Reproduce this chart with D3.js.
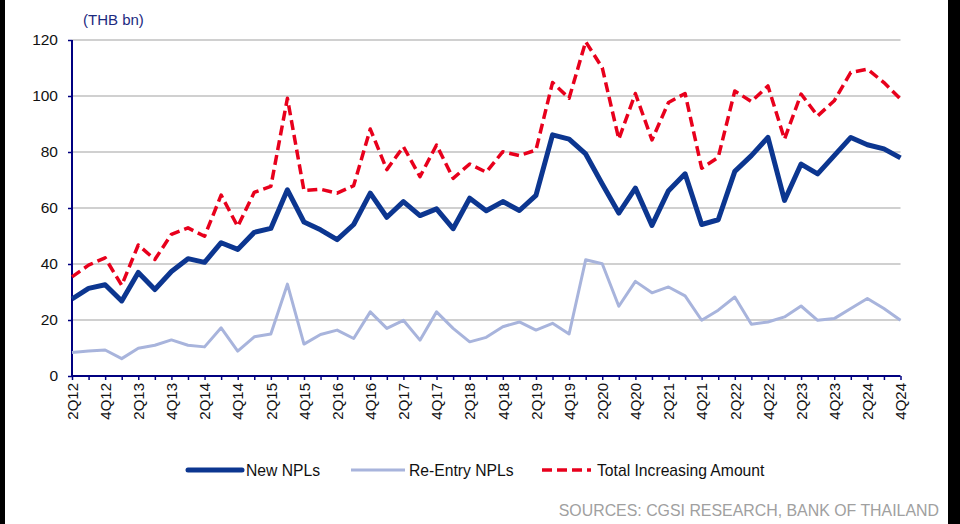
<!DOCTYPE html>
<html>
  <head>
    <meta charset="utf-8" />
    <title>New NPLs</title>
    <script src="https://d3js.org/d3.v7.min.js"></script>
    <style>
      body {
        margin: 0;
        background: white;
      }
      svg {
        display: block;
        font-family: Arial, "Liberation Sans", sans-serif;
      }
    </style>
  </head>

  <body>
    <svg width="960" height="524" id="chart"></svg>

    <script>
      // quarters, 2Q12 .. 4Q24
      const quarters = [
        "2Q12", "3Q12", "4Q12", "1Q13", "2Q13", "3Q13", "4Q13", "1Q14", "2Q14", "3Q14",
        "4Q14", "1Q15", "2Q15", "3Q15", "4Q15", "1Q16", "2Q16", "3Q16", "4Q16", "1Q17",
        "2Q17", "3Q17", "4Q17", "1Q18", "2Q18", "3Q18", "4Q18", "1Q19", "2Q19", "3Q19",
        "4Q19", "1Q20", "2Q20", "3Q20", "4Q20", "1Q21", "2Q21", "3Q21", "4Q21", "1Q22",
        "2Q22", "3Q22", "4Q22", "1Q23", "2Q23", "3Q23", "4Q23", "1Q24", "2Q24", "3Q24",
        "4Q24"
      ];

      const newNPLs = [
        27.5, 31.3, 32.6, 26.8, 37.0, 30.9, 37.3, 41.9, 40.6, 47.6,
        45.2, 51.3, 52.7, 66.5, 55.0, 52.2, 48.7, 54.1, 65.3, 56.7,
        62.3, 57.3, 59.7, 52.6, 63.5, 59.0, 62.3, 59.1, 64.5, 86.1,
        84.6, 79.3, 68.6, 58.2, 67.1, 53.8, 66.2, 72.2, 54.1, 55.8,
        73.1, 78.7, 85.2, 62.7, 75.7, 72.2, 78.7, 85.2, 82.6, 81.1,
        77.9
      ];

      const reEntryNPLs = [
        8.4, 8.9, 9.3, 6.2, 9.9, 11.0, 12.9, 11.0, 10.4, 17.2,
        8.9, 14.0, 15.0, 32.8, 11.4, 14.8, 16.4, 13.4, 22.9, 17.0,
        19.9, 12.8, 22.9, 17.0, 12.2, 13.8, 17.6, 19.3, 16.4, 18.8,
        15.0, 41.5, 40.1, 24.9, 33.8, 29.7, 31.8, 28.6, 19.9, 23.5,
        28.2, 18.5, 19.3, 21.1, 25.0, 19.9, 20.5, 24.1, 27.7, 24.1,
        19.9
      ];

      const totalIncreasing = [
        35.4, 39.6, 42.2, 32.4, 46.8, 41.6, 50.6, 52.9, 49.9, 64.6,
        53.4, 65.6, 67.7, 99.2, 66.2, 66.7, 65.3, 68.0, 88.2, 73.7,
        81.9, 71.2, 82.5, 70.6, 75.7, 72.8, 80.1, 78.7, 80.7, 104.8,
        99.2, 119.4, 110.1, 84.6, 100.9, 84.3, 97.7, 100.9, 74.2, 78.1,
        101.8, 98.0, 103.6, 84.6, 100.7, 92.9, 98.3, 108.4, 109.6, 104.8,
        98.9
      ];

      const yTicks = [0, 20, 40, 60, 80, 100, 120];

      const series = [
        { name: "New NPLs", values: newNPLs, color: "#0c3690", width: 5, dash: null },
        { name: "Re-Entry NPLs", values: reEntryNPLs, color: "#a8b4dc", width: 3, dash: null },
        { name: "Total Increasing Amount", values: totalIncreasing, color: "#e8001c", width: 3.5, dash: "10,5" }
      ];

      const svg = d3.select("#chart");
      const axisColor = "#000080";

      const plotLeft = 72, plotRight = 900.5, plotTop = 40, plotBottom = 376;

      const x = d3.scalePoint()
        .domain(quarters)
        .range([plotLeft, plotRight]);

      const y = d3.scaleLinear()
        .domain([0, 120])
        .range([plotBottom, plotTop]);

      // grid lines
      svg.append("g")
        .selectAll("line")
        .data(yTicks.filter(d => d > 0))
        .enter()
        .append("line")
        .attr("x1", plotLeft)
        .attr("x2", plotRight)
        .attr("y1", d => y(d))
        .attr("y2", d => y(d))
        .attr("stroke", "#c0c0c0")
        .attr("stroke-width", 1.5);

      // y axis
      const yAxis = svg.append("g")
        .attr("transform", `translate(${plotLeft},0)`)
        .call(d3.axisLeft(y).tickValues(yTicks).tickSize(4).tickPadding(10));
      yAxis.select(".domain").attr("stroke", axisColor).attr("stroke-width", 2)
        .attr("d", `M0,${plotTop}V${plotBottom}`);
      yAxis.selectAll(".tick line").attr("stroke", axisColor).attr("stroke-width", 1.5);
      yAxis.selectAll(".tick text")
        .attr("fill", "#111")
        .style("font-size", "15.5px")
        .style("font-family", "Arial, 'Liberation Sans', sans-serif");

      // x axis
      const xAxis = svg.append("g")
        .attr("transform", `translate(0,${plotBottom})`)
        .call(d3.axisBottom(x).tickSize(4).tickPadding(7));
      xAxis.select(".domain").attr("stroke", axisColor).attr("stroke-width", 2)
        .attr("d", `M${plotLeft},0H${plotRight}`);
      xAxis.selectAll(".tick line").attr("stroke", axisColor).attr("stroke-width", 1.5);
      xAxis.selectAll(".tick text")
        .text((d, i) => (i % 2 === 0 ? d : ""))
        .attr("fill", "#111")
        .attr("transform", "rotate(-90)")
        .attr("text-anchor", "end")
        .attr("x", -7)
        .attr("y", 0)
        .attr("dy", "0.35em")
        .style("font-size", "15px")
        .style("font-family", "Arial, 'Liberation Sans', sans-serif");

      // lines
      const line = d3.line()
        .x((d, i) => x(quarters[i]))
        .y(d => y(d));

      svg.append("g")
        .selectAll("path")
        .data(series)
        .enter()
        .append("path")
        .attr("d", d => line(d.values))
        .attr("fill", "none")
        .attr("stroke", d => d.color)
        .attr("stroke-width", d => d.width)
        .attr("stroke-dasharray", d => d.dash)
        .attr("stroke-linejoin", "round");

      // unit label
      svg.append("text")
        .attr("x", 83)
        .attr("y", 25)
        .attr("fill", "#1c2a80")
        .style("font-size", "15px")
        .text("(THB bn)");

      // legend
      const legendX = [188, 351, 542];
      const legend = svg.append("g")
        .selectAll("g")
        .data(series)
        .enter()
        .append("g")
        .attr("transform", (d, i) => `translate(${legendX[i]},470)`);

      legend.append("line")
        .attr("x1", 0)
        .attr("x2", (d, i) => (i === 2 ? 49 : 54))
        .attr("stroke", d => d.color)
        .attr("stroke-width", d => d.width)
        .attr("stroke-dasharray", d => d.dash)
        .attr("stroke-linecap", (d, i) => (i === 0 ? "round" : "butt"));

      legend.append("text")
        .attr("x", (d, i) => (i === 2 ? 55 : 58))
        .attr("y", 5.5)
        .attr("fill", "#111")
        .style("font-size", "15.7px")
        .text(d => d.name);

      // source
      svg.append("text")
        .attr("x", 939)
        .attr("y", 516)
        .attr("text-anchor", "end")
        .attr("fill", "#a0a0a0")
        .style("font-size", "15.9px")
        .text("SOURCES: CGSI RESEARCH, BANK OF THAILAND");

      // black edges of the original capture
      svg.append("rect").attr("x", 0).attr("y", 0).attr("width", 5).attr("height", 524).attr("fill", "#000");
      svg.append("rect").attr("x", 948).attr("y", 0).attr("width", 12).attr("height", 524).attr("fill", "#000");
    </script>
  </body>
</html>
